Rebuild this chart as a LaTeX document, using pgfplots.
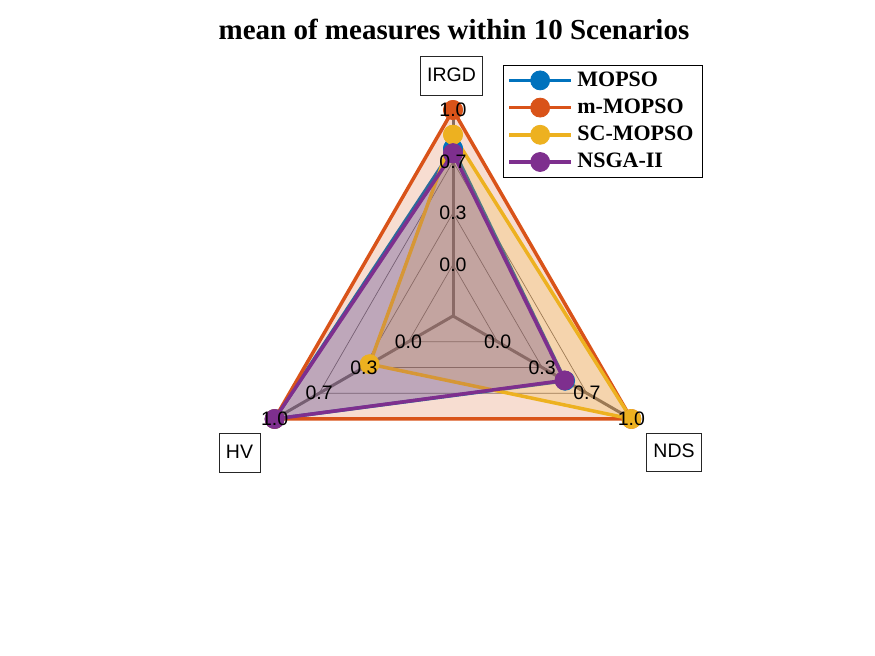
\documentclass[border=0pt]{standalone}
\usepackage{pgfplots}
\pgfplotsset{compat=1.18}
\usepackage{pgfplotstable}
\usepackage{fontspec}
\setmainfont{Liberation Serif}
\newfontfamily\arialf{Liberation Sans}
\definecolor{cA}{rgb}{0,0.447,0.741}
\definecolor{cB}{rgb}{0.85,0.325,0.098}
\definecolor{cC}{rgb}{0.929,0.694,0.125}
\definecolor{cD}{rgb}{0.494,0.184,0.556}
\definecolor{gridc}{gray}{0.45}

% a = axis angle (IRGD 90, HV 210, NDS 330), v = normalized mean value
\pgfplotstableread{
a v
90 0.75
210 1.0
330 0.505
90 0.75
}\mopso
\pgfplotstableread{
a v
90 1.0
210 1.0
330 1.0
90 1.0
}\mmopso
\pgfplotstableread{
a v
90 0.84
210 0.29
330 1.0
90 0.84
}\scmopso
\pgfplotstableread{
a v
90 0.72
210 1.0
330 0.50
90 0.72
}\nsga
\pgfplotstableread{
a v
90 0
210 0
330 0
90 0
}\ringA
\pgfplotstableread{
a v
90 0.3333
210 0.3333
330 0.3333
90 0.3333
}\ringB
\pgfplotstableread{
a v
90 0.6667
210 0.6667
330 0.6667
90 0.6667
}\ringC

\tikzset{
  ser/.style={draw=#1, fill=#1, fill opacity=0.2, draw opacity=1, line width=3.5bp,
    mark=*, mark size=9.5bp, mark options={fill=#1, draw=#1, fill opacity=1, draw opacity=1, line width=0.8bp}},
  tl/.style={font=\arialf\fontsize{19.5bp}{20bp}\selectfont, inner sep=0pt, text=black},
  bl/.style={font=\arialf\fontsize{19.5bp}{20bp}\selectfont, draw=black!85, line width=0.8bp, fill=white,
    inner xsep=7bp, inner ysep=10bp, text height=14.5bp, text depth=4bp},
}
\pgfplotsset{
  table/radar/.style={x expr={206*(0.25+0.75*\thisrow{v})*cos(\thisrow{a})},
                y expr={206*(0.25+0.75*\thisrow{v})*sin(\thisrow{a})}},
}

\begin{document}
\begin{tikzpicture}
\begin{axis}[
  scale only axis, width=875bp, height=656bp,
  xmin=-453, xmax=422, ymin=-340, ymax=316,
  hide axis, clip=false,
  legend style={at={(axis cs:50,251)}, anchor=north west, draw=black, line width=0.8bp,
     fill=white, inner xsep=4bp, inner ysep=4.5bp, row sep=6.2bp,
     font=\fontsize{22bp}{24bp}\selectfont\bfseries,
     nodes={inner ysep=1.5bp, inner xsep=4.5bp, text height=15bp, text depth=3bp}},
  legend cell align=left,
  legend image code/.code={
    \draw[#1, fill=none] plot coordinates {(0bp,0bp) (31bp,0bp) (62bp,0bp)};
  },
]
% grid rings (triangles) and spokes
\addplot[draw=gridc, line width=0.7bp, forget plot] table[radar] {\ringA};
\addplot[draw=gridc, line width=0.7bp, forget plot] table[radar] {\ringB};
\addplot[draw=gridc, line width=0.7bp, forget plot] table[radar] {\ringC};
\addplot[draw=gridc, line width=3bp, forget plot] coordinates {(0,0) (0,206)};
\addplot[draw=gridc, line width=3bp, forget plot] coordinates {(0,0) (-178.4,-103)};
\addplot[draw=gridc, line width=3bp, forget plot] coordinates {(0,0) (178.4,-103)};

% series
\addplot[ser=cA, forget plot] table[radar] {\mopso};
\addplot[ser=cB, forget plot] table[radar] {\mmopso};
\addplot[ser=cC, forget plot] table[radar] {\scmopso};
\addplot[ser=cD, forget plot] table[radar] {\nsga};

\addlegendimage{ser=cA, mark repeat=2, mark phase=2}
\addlegendentry{MOPSO}
\addlegendimage{ser=cB, mark repeat=2, mark phase=2}
\addlegendentry{m-MOPSO}
\addlegendimage{ser=cC, mark repeat=2, mark phase=2}
\addlegendentry{SC-MOPSO}
\addlegendimage{ser=cD, mark repeat=2, mark phase=2}
\addlegendentry{NSGA-II}

% anchor points for tick labels (drawn on top afterwards)
\coordinate (i0) at (axis cs:0,51.5);
\coordinate (i1) at (axis cs:0,103);
\coordinate (i2) at (axis cs:0,154.5);
\coordinate (i3) at (axis cs:0,206);
\coordinate (h0) at (axis cs:-44.6,-25.75);
\coordinate (h1) at (axis cs:-89.2,-51.5);
\coordinate (h2) at (axis cs:-133.8,-77.25);
\coordinate (h3) at (axis cs:-178.4,-103);
\coordinate (n0) at (axis cs:44.6,-25.75);
\coordinate (n1) at (axis cs:89.2,-51.5);
\coordinate (n2) at (axis cs:133.8,-77.25);
\coordinate (n3) at (axis cs:178.4,-103);

% axis labels
\node[bl] at (axis cs:-1.5,240) {IRGD};
\node[bl] at (axis cs:-213.5,-137) {HV};
\node[bl] at (axis cs:221,-136.5) {NDS};

% title
\node[anchor=base, font=\fontsize{29bp}{30bp}\selectfont\bfseries] at (axis cs:1,276) {mean of measures within 10 Scenarios};

\path (rel axis cs:0,0) rectangle (rel axis cs:1,1);
\end{axis}
\node[tl] at (i0) {0.0};
\node[tl] at (i1) {0.3};
\node[tl] at (i2) {0.7};
\node[tl] at (i3) {1.0};
\node[tl] at (h0) {0.0};
\node[tl] at (h1) {0.3};
\node[tl] at (h2) {0.7};
\node[tl] at (h3) {1.0};
\node[tl] at (n0) {0.0};
\node[tl] at (n1) {0.3};
\node[tl] at (n2) {0.7};
\node[tl] at (n3) {1.0};
\end{tikzpicture}
\end{document}
